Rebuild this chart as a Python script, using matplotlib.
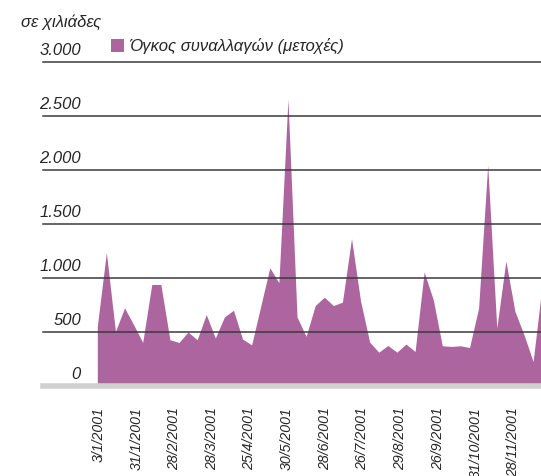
import numpy as np
import matplotlib
matplotlib.use("Agg")
import matplotlib.pyplot as plt

# ---- data (weekly trading volume, thousands of shares) ----
volume = [556, 1240, 509, 727, 572, 407, 944, 944, 432, 407,
          504, 432, 665, 448, 643, 705, 438, 385, 742, 1099,
          960, 2660, 643, 463, 749, 826, 749, 780, 1369, 789,
          410, 317, 379, 317, 392, 323, 1059, 804, 376, 370,
          376, 360, 727, 2052, 541, 1161, 695, 478, 230, 940]
date_labels = ["3/1/2001", "31/1/2001", "28/2/2001", "28/3/2001", "25/4/2001",
               "30/5/2001", "28/6/2001", "26/7/2001", "29/8/2001", "26/9/2001",
               "31/10/2001", "28/11/2001"]
y_ticks = [0, 500, 1000, 1500, 2000, 2500, 3000]
y_tick_labels = ["0", "500", "1.000", "1.500", "2.000", "2.500", "3.000"]
series_name = "Όγκος συναλλαγών (μετοχές)"
unit_label = "σε χιλιάδες"

FILL = "#ad659f"
TXT = "#262626"
FONT = "Liberation Sans"

W, H = 541, 476
fig = plt.figure(figsize=(W / 100, H / 100), dpi=100)
ax = fig.add_axes([43 / W, (H - 386.4) / H, (541 - 43) / W, (386.4 - 62.4) / H])

x = np.arange(len(volume))
ax.fill_between(x, 0, volume, color=FILL, linewidth=0, zorder=1)

ax.set_xlim(-5.98, 48.87)
ax.set_ylim(0, 3000)

# grid lines above the fill
for v in y_ticks[1:]:
    ax.axhline(v, color="#3a3a3a", lw=1.1, zorder=3, clip_on=False)
# light grey baseline bar
ax.axhline(0, color="#d0d0d0", lw=4.0, zorder=4, clip_on=False)

for s in ax.spines.values():
    s.set_visible(False)
ax.set_yticks([])

# y tick labels sit above each grid line
for v, lab in zip(y_ticks, y_tick_labels):
    ax.annotate(lab, xy=(81 / W, v), xycoords=("figure fraction", "data"),
                xytext=(0, 4), textcoords="offset pixels",
                ha="right", va="bottom", fontsize=12, style="italic",
                family=FONT, color=TXT)

# x tick labels
tick_pos = np.arange(len(date_labels)) * 4.15 + 0.15
ax.set_xticks(tick_pos)
ax.set_xticklabels(date_labels, rotation=90, fontsize=10.2, style="italic",
                   family=FONT, color=TXT, ha="center", va="top")
ax.tick_params(axis="x", length=0, pad=15)

# unit label
fig.text(21 / W, 1 - 27 / H, unit_label, ha="left", va="baseline",
         fontsize=12, style="italic", family=FONT, color=TXT)

# legend
from matplotlib.patches import Patch
leg = fig.legend(handles=[Patch(facecolor=FILL, edgecolor="none")],
                 labels=[series_name], loc="center left",
                 bbox_to_anchor=(111 / W, 1 - 46 / H), frameon=False,
                 borderpad=0, borderaxespad=0, handlelength=0.78,
                 handleheight=0.84, handletextpad=0.3,
                 prop={"family": FONT, "style": "italic", "size": 12})
for t in leg.get_texts():
    t.set_color(TXT)

fig.savefig("out.png", dpi=100)
